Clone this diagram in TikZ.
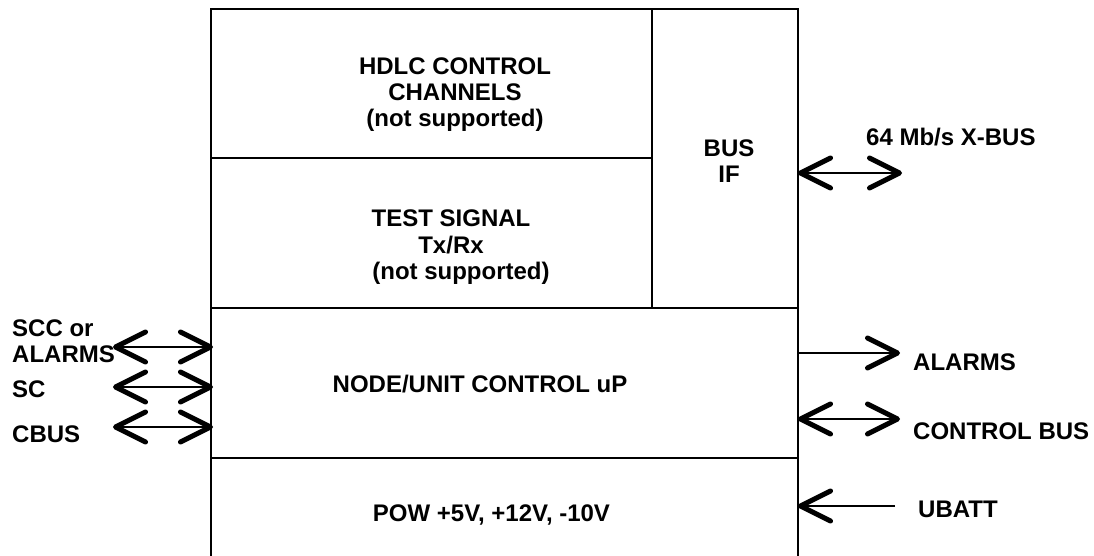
\documentclass[tikz,border=0pt]{standalone}
\usepackage{fontspec}
\setmainfont{Liberation Sans}
\usetikzlibrary{arrows.meta}

\begin{document}
\begin{tikzpicture}[
        x=1pt, y=-1pt,
        font=\fontsize{24}{26}\selectfont\bfseries,
        >={Straight Barb[length=30pt, width=30pt, line width=5pt, round]},
        frame/.style={line width=2.5pt},
        divider/.style={line width=1.5pt},
        sig/.style={line width=2pt},
        blk/.style={align=center, inner sep=0pt},
        lbl/.style={inner sep=0pt, anchor=base west}
    ]
        \useasboundingbox (0, 0) rectangle (1094, 556);

        \coordinate (TL) at (211, 9);
        \coordinate (TR) at (798, 9);
        \coordinate (BL) at (211, 556);
        \coordinate (BR) at (798, 556);

        % frame, open at the bottom
        \draw[frame] (BL) -- (TL) -- (TR) -- (BR);
        \draw[divider] (211, 158) -- (652, 158);
        \draw[divider] (211, 308) -- (798, 308);
        \draw[divider] (211, 458) -- (798, 458);
        \draw[divider] (652, 9) -- (652, 308);

        % blocks
        \node[blk] (hdlc) at (455, 94.5)
            {HDLC CONTROL\\CHANNELS\\(not supported)};
        \node[blk, font=\fontsize{24}{26.5}\selectfont\bfseries] (test) at (451, 247.5)
            {TEST SIGNAL\\Tx/Rx\hspace*{18pt}\\\hspace*{20pt}(not supported)};
        \node[blk] (busif) at (729, 161.5) {BUS\\IF};
        \node[blk, anchor=base] (ctrl) at (480, 392) {NODE/UNIT CONTROL uP};
        \node[blk, anchor=base] (pow) at (491.5, 521.7) {POW +5V, +12V, -10V};

        % left side
        \node[blk, align=left, anchor=west] (sccL) at (12, 341.4) {SCC or\\ALARMS};
        \node[lbl] (scL) at (12, 397) {SC};
        \node[lbl] (cbusL) at (12, 442) {CBUS};

        \coordinate (scc1) at (113, 347);
        \coordinate (scc2) at (213, 347);
        \coordinate (sc1) at (113, 387);
        \coordinate (sc2) at (213, 387);
        \coordinate (cbus1) at (113, 427);
        \coordinate (cbus2) at (213, 427);

        \draw[sig, <->] (scc1) -- (scc2);
        \draw[sig, <->] (sc1) -- (sc2);
        \draw[sig, <->] (cbus1) -- (cbus2);

        % right side
        \node[lbl] (xbusR) at (866, 146) {64 Mb/s X-BUS};
        \node[lbl] (alarmsR) at (913, 370) {ALARMS};
        \node[lbl] (cbusR) at (913, 439) {CONTROL BUS};
        \node[lbl] (ubattR) at (918, 517) {UBATT};

        \coordinate (xbus1) at (798, 173);
        \coordinate (xbus2) at (902, 173);
        \coordinate (alm1) at (798, 353);
        \coordinate (alm2) at (900, 353);
        \coordinate (cb1) at (798, 419);
        \coordinate (cb2) at (900, 419);
        \coordinate (ub1) at (895, 506);
        \coordinate (ub2) at (798, 506);

        \draw[sig, <->] (xbus1) -- (xbus2);
        \draw[sig, ->] (alm1) -- (alm2);
        \draw[sig, <->] (cb1) -- (cb2);
        \draw[sig, ->] (ub1) -- (ub2);
    \end{tikzpicture}
\end{document}
